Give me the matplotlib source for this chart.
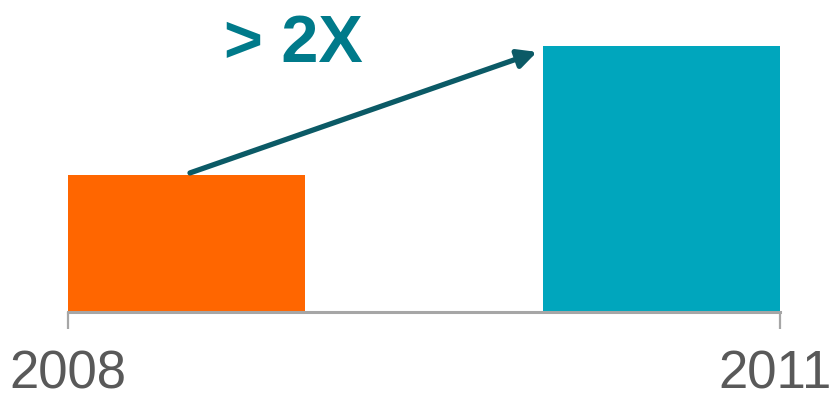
import matplotlib
matplotlib.use('Agg')
import matplotlib.pyplot as plt
from matplotlib.transforms import ScaledTranslation

# data
years = ['2008', '2011']
values = [1.0, 1.94]
bar_colors = ['#FF6600', '#00A6BD']
growth_label = '> 2X'

plt.rcParams['font.family'] = ['Liberation Sans', 'DejaVu Sans']

fig = plt.figure(figsize=(8.34, 3.98), dpi=100)
ax = fig.add_axes([68 / 834, 86 / 398, 712 / 834, 312 / 398])

x = list(range(len(years)))
ax.bar(x, values, width=0.5, color=bar_colors)

ax.set_xlim(-0.25, 1.25)
ax.set_ylim(0, 2.277)

for side in ['top', 'right', 'left']:
    ax.spines[side].set_visible(False)
ax.spines['bottom'].set_color('#A6A6A6')
ax.spines['bottom'].set_linewidth(2.2)
ax.set_yticks([])

ax.set_xticks([-0.25, 1.25])
ax.set_xticklabels(years, fontsize=38, color='#595959')
ax.tick_params(axis='x', direction='out', length=12, width=1.6, color='#A6A6A6', pad=15)
# nudge the right label in a bit so it stays inside the figure
lbl = ax.get_xticklabels()[1]
lbl.set_transform(lbl.get_transform() + ScaledTranslation(-5 / 100, 0, fig.dpi_scale_trans))

# growth arrow from top of first bar toward second bar
ax.annotate('', xy=(0.738, 1.898), xytext=(0.007, 1.015),
            arrowprops=dict(arrowstyle='-|>', color='#0B5A66', lw=3.8,
                            mutation_scale=28, shrinkA=0, shrinkB=0))
ax.text(0.079, 1.825, growth_label, fontsize=48, fontweight='bold',
        color='#007A8A', ha='left', va='baseline')

fig.savefig('out.png', dpi=100)
